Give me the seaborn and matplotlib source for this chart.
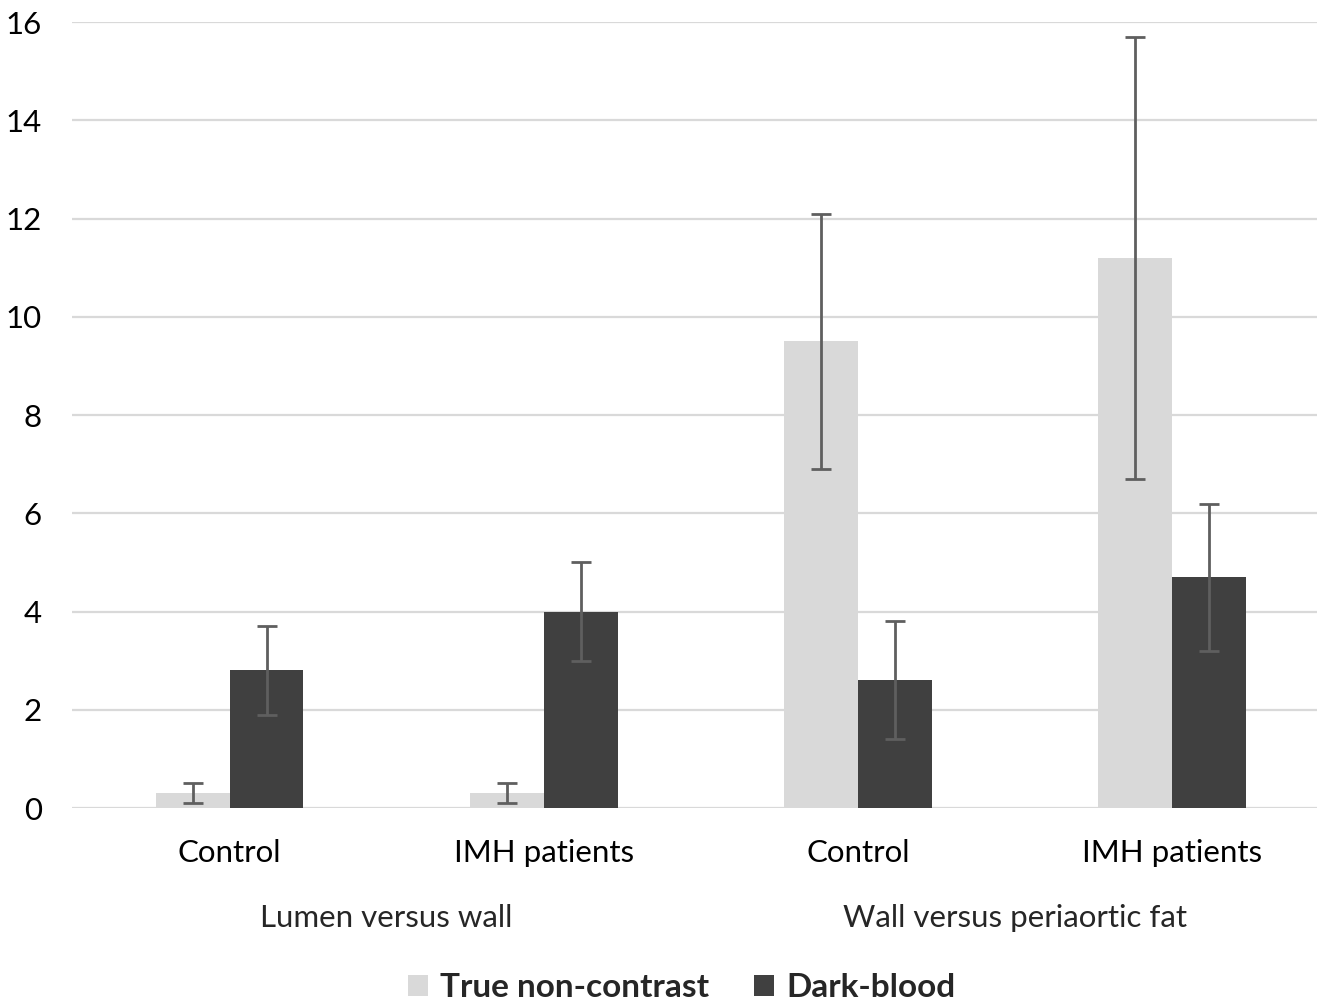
import pandas as pd
import seaborn as sns
import matplotlib.pyplot as plt
from matplotlib.patches import Patch

groups = ["Lumen versus wall", "Lumen versus wall", "Wall versus periaortic fat", "Wall versus periaortic fat"]
subgroups = ["Control", "IMH patients", "Control", "IMH patients"]
tnc_mean = [0.3, 0.3, 9.5, 11.2]
tnc_err = [0.2, 0.2, 2.6, 4.5]
db_mean = [2.8, 4.0, 2.6, 4.7]
db_err = [0.9, 1.0, 1.2, 1.5]
series = ["True non-contrast", "Dark-blood"]
colors = ["#D9D9D9", "#404040"]

cats = [f"{g}|{s}" for g, s in zip(groups, subgroups)]
df = pd.DataFrame({
    "cat": cats * 2,
    "series": [series[0]] * 4 + [series[1]] * 4,
    "value": tnc_mean + db_mean,
    "err": tnc_err + db_err,
})

sns.set_style("white")
plt.rcParams["font.family"] = ["Lato", "DejaVu Sans"]

fig = plt.figure(figsize=(13.18, 10.01), dpi=100)
ax = fig.add_axes([0.055, 0.1928, 0.944, 0.785])

sns.barplot(data=df, x="cat", y="value", hue="series", order=cats,
            hue_order=series, palette=colors, width=0.47, errorbar=None,
            saturation=1, legend=False, ax=ax, zorder=2, linewidth=0)

# error bars on each bar
for i, s in enumerate(series):
    sub = df[df["series"] == s]
    xs = [j - 0.1175 + i * 0.235 for j in range(len(cats))]
    ax.errorbar(xs, sub["value"], yerr=sub["err"], fmt="none",
                ecolor="#5f5f5f", elinewidth=2, capsize=7, capthick=2, zorder=3)

ax.set_ylim(0, 16)
ax.set_yticks(range(0, 17, 2))
ax.set_xlim(-0.5, 3.46)
ax.yaxis.grid(True, color="#D9D9D9", linewidth=1.6, zorder=0)
ax.set_axisbelow(True)
for sp in ax.spines.values():
    sp.set_visible(False)
ax.set_xticks(range(len(cats)))
ax.set_xticklabels(subgroups)
ax.tick_params(axis="both", length=0, labelsize=22.5, colors="black")
ax.tick_params(axis="x", pad=22)
ax.tick_params(axis="y", pad=22)
ax.set_xlabel("")
ax.set_ylabel("")

# group labels
trans = ax.get_xaxis_transform()
ax.text(0.5, -0.14, "Lumen versus wall", transform=trans, ha="center",
        va="center", fontsize=22.5)
ax.text(2.5, -0.14, "Wall versus periaortic fat", transform=trans,
        ha="center", va="center", fontsize=22.5)

handles = [Patch(facecolor=c, edgecolor="none") for c in colors]
fig.legend(handles, series, loc="center", bbox_to_anchor=(0.517, 0.013),
           ncol=2, frameon=False, prop={"weight": "bold", "size": 24},
           handlelength=0.6, handleheight=0.6, handletextpad=0.36,
           columnspacing=1.36)

fig.savefig("out.png", dpi=100)
